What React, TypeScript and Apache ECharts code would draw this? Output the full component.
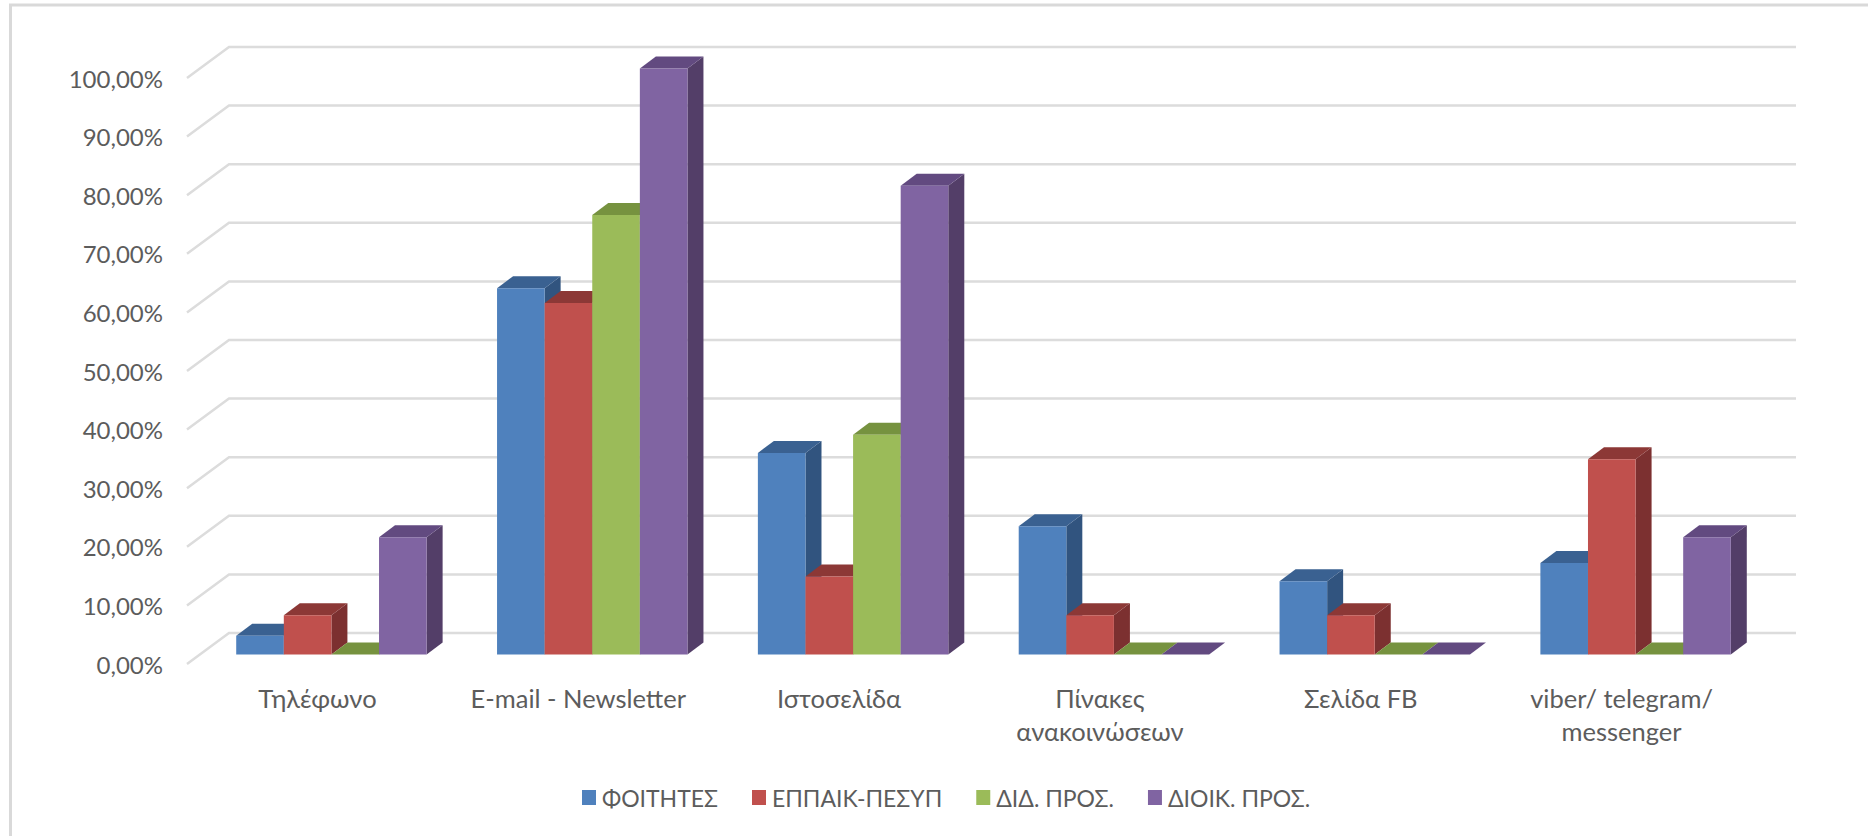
import React, { useEffect, useRef } from "react";
import * as echarts from "echarts";

const categories = ["Τηλέφωνο", "E-mail - Newsletter", "Ιστοσελίδα", "Πίνακες\nανακοινώσεων", "Σελίδα FB", "viber/ telegram/\nmessenger"];
const seriesNames = ["ΦΟΙΤΗΤΕΣ", "ΕΠΠΑΙΚ-ΠΕΣΥΠ", "ΔΙΔ. ΠΡΟΣ.", "ΔΙΟΙΚ. ΠΡΟΣ."];
const foitites = [3.2, 62.5, 34.4, 21.9, 12.5, 15.6];
const eppaik = [6.7, 60, 13.3, 6.7, 6.7, 33.3];
const did = [0, 75, 37.5, 0, 0, 0];
const dioik = [20, 100, 80, 0, 0, 20];
const seriesValues = [foitites, eppaik, did, dioik];
const yTicks = [0, 10, 20, 30, 40, 50, 60, 70, 80, 90, 100];
const frontColors = ["#4F81BD", "#C0504D", "#9BBB59", "#8064A2"];
const topColors = ["#3A6191", "#8C3836", "#76923F", "#624A80"];
const sideColors = ["#31547F", "#7C3030", "#667F36", "#533E68"];

const FONT = "Lato, 'Open Sans', sans-serif";
const TEXT = "#5c5c5c";
const GRID = "#dcdcdc";
const WALL_DX = 42;
const WALL_DY = 31;
const BAR_SHIFT_X = 14;
const BAR_SHIFT_Y = 9.5;
const DEPTH_X = 16;
const DEPTH_Y = 12;
const BAR_RATIO = 0.1825;

function barRenderer(seriesIndex: number) {
  return (_p: any, api: any) => {
    const cat = api.value(0);
    const val = api.value(1);
    const center = api.coord([cat, 0]);
    const top = api.coord([cat, val]);
    const band = api.size([1, 0])[0];
    const w = band * BAR_RATIO;
    const x0 = center[0] + BAR_SHIFT_X - 2 * w + seriesIndex * w;
    const x1 = x0 + w;
    const yb = center[1] - BAR_SHIFT_Y;
    const yt = top[1] - BAR_SHIFT_Y;
    const children: any[] = [];
    children.push({
      type: "polygon",
      shape: { points: [[x1, yt], [x1 + DEPTH_X, yt - DEPTH_Y], [x1 + DEPTH_X, yb - DEPTH_Y], [x1, yb]] },
      style: { fill: sideColors[seriesIndex] },
    });
    children.push({
      type: "polygon",
      shape: { points: [[x0, yt], [x0 + DEPTH_X, yt - DEPTH_Y], [x1 + DEPTH_X, yt - DEPTH_Y], [x1, yt]] },
      style: { fill: topColors[seriesIndex] },
    });
    if (val > 0) {
      children.push({
        type: "rect",
        shape: { x: x0, y: yt, width: w, height: yb - yt },
        style: { fill: frontColors[seriesIndex] },
      });
    }
    return { type: "group", children };
  };
}

function gridRenderer(params: any, api: any) {
  const v = api.value(1);
  const y = api.coord([0, v])[1];
  const x = params.coordSys.x;
  const w = params.coordSys.width;
  return {
    type: "polyline",
    shape: { points: [[x, y], [x + WALL_DX, y - WALL_DY], [x + w + WALL_DX + 2, y - WALL_DY]] },
    style: { fill: "none", stroke: GRID, lineWidth: 2.5 },
  };
}

export default function App() {
  const ref = useRef<HTMLDivElement>(null);
  useEffect(() => {
    const chart = echarts.init(ref.current!, null, { renderer: "svg" });
    chart.setOption({
      animation: false,
      backgroundColor: "#ffffff",
      textStyle: { fontFamily: FONT },
      grid: { left: 187, top: 78, width: 1565, height: 586 },
      graphic: [
        {
          type: "polyline",
          z: 0,
          shape: { points: [[10.5, 836], [10.5, 5], [1868, 5]] },
          style: { fill: "none", stroke: "#d9d9d9", lineWidth: 3 },
        },
      ],
      legend: {
        left: 577,
        top: 781,
        itemWidth: 14,
        itemHeight: 15,
        itemGap: 34,
        icon: "rect",
        data: seriesNames,
        textStyle: { color: TEXT, fontSize: 23, fontFamily: FONT, padding: [0, 0, 0, 1] },
      },
      xAxis: {
        type: "category",
        data: categories,
        axisLine: { show: false },
        axisTick: { show: false },
        splitLine: { show: false },
        axisLabel: { color: TEXT, fontSize: 25.5, fontFamily: FONT, margin: 17, lineHeight: 33, interval: 0 },
      },
      yAxis: {
        type: "value",
        min: 0,
        max: 100,
        interval: 10,
        axisLine: { show: false },
        axisTick: { show: false },
        splitLine: { show: false },
        axisLabel: {
          color: TEXT,
          fontSize: 24,
          fontFamily: FONT,
          margin: 24,
          formatter: (v: number) => v.toFixed(2).replace(".", ",") + "%",
        },
      },
      series: [
        {
          type: "custom",
          name: "grid",
          silent: true,
          z: 1,
          clip: false,
          renderItem: gridRenderer,
          encode: { x: 0, y: 1 },
          data: yTicks.map((t) => [0, t]),
        },
        ...seriesNames.map((name, i) => ({
          type: "custom",
          name,
          z: 2 + i,
          clip: false,
          itemStyle: { color: frontColors[i] },
          renderItem: barRenderer(i),
          encode: { x: 0, y: 1 },
          data: seriesValues[i].map((v, c) => [c, v]),
        })),
      ],
    });
    return () => chart.dispose();
  }, []);
  return <div ref={ref} style={{ position: "absolute", left: 0, top: 0, width: 1868, height: 836 }} />;
}
